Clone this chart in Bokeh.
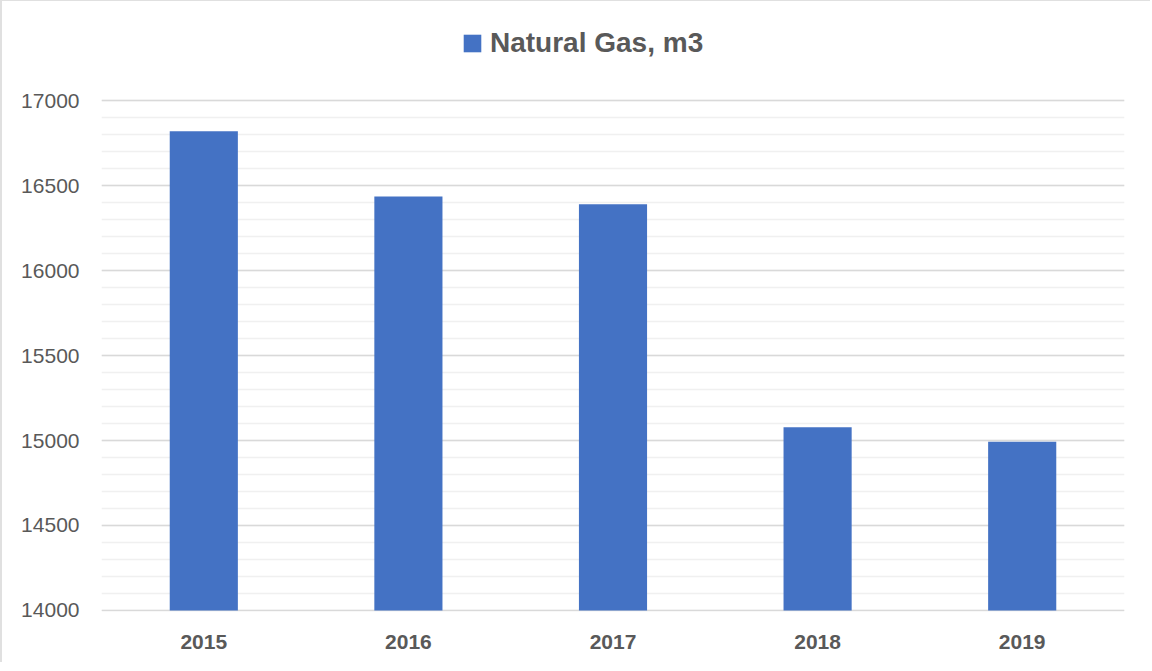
from bokeh.plotting import figure
from bokeh.models import ColumnDataSource, FactorRange, Range1d, SingleIntervalTicker, Legend, LegendItem
from bokeh.embed import file_html
from bokeh.resources import INLINE

years = ["2015", "2016", "2017", "2018", "2019"]
gas = [16820, 16435, 16390, 15078, 14992]
series_name = "Natural Gas, m3"

FONT = "Liberation Sans"
GRAY = "#595959"

src = ColumnDataSource(dict(year=years, gas=gas))

# y range extends above 17000 to leave room for the legend inside the frame
p = figure(width=1150, height=662, x_range=FactorRange(factors=years, range_padding=0),
           y_range=Range1d(13994, 17530), output_backend="svg", toolbar_location=None,
           min_border_left=99, min_border_right=28, min_border_top=9, min_border_bottom=52)
p.outline_line_color = None
p.styles = {"border-left": "2px solid #e0e0e0", "border-top": "1px solid #e0e0e0"}

r = p.vbar(x="year", top="gas", bottom=14000, width=0.333, source=src,
           fill_color="#4472C4", line_color=None)

p.yaxis.ticker = SingleIntervalTicker(interval=500, num_minor_ticks=5)
p.yaxis.bounds = (14000, 17000)
p.ygrid.bounds = (14000, 17000)
p.xgrid.grid_line_color = None
p.ygrid.grid_line_color = "#d9d9d9"
p.ygrid.grid_line_width = 1.5
p.ygrid.minor_grid_line_color = "#f0f0f0"
p.ygrid.minor_grid_line_width = 1.5

for ax in (p.xaxis, p.yaxis):
    ax.axis_line_color = None
    ax.major_tick_line_color = None
    ax.minor_tick_line_color = None
    ax.major_label_text_color = GRAY
    ax.major_label_text_font = FONT
    ax.major_label_text_font_size = "21px"
p.xaxis.major_label_text_font_style = "bold"
p.yaxis.major_label_standoff = 16
p.xaxis.major_label_standoff = 17

legend = Legend(items=[LegendItem(label=series_name, renderers=[r])],
                location=(360, 552), orientation="horizontal",
                label_text_font=FONT, label_text_font_size="28px", label_text_font_style="bold",
                label_text_color=GRAY, glyph_width=22, glyph_height=22, label_standoff=7,
                padding=0, margin=0, border_line_color=None, background_fill_alpha=0)
p.add_layout(legend, "center")

open("out.html", "w").write(file_html(p, INLINE))
